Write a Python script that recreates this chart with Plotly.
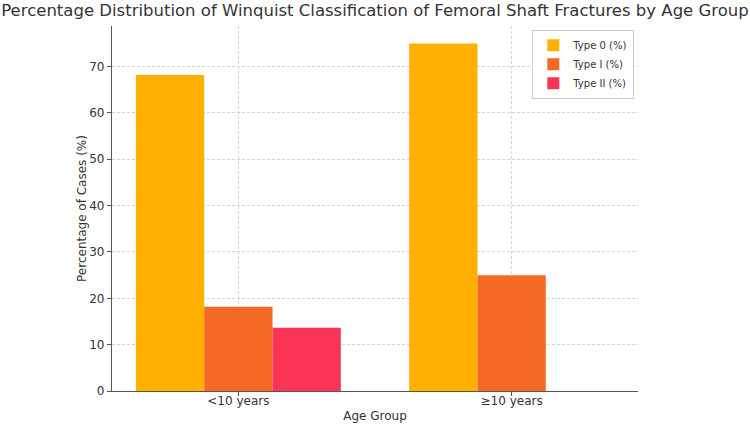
import plotly.graph_objects as go

categories = ["<10 years", "≥10 years"]
type0 = [68.18, 75.0]
type1 = [18.18, 25.0]
type2 = [13.64, 0.0]
series_names = ["Type 0 (%)", "Type I (%)", "Type II (%)"]
colors = ["#FFB000", "#F46A24", "#FA3456"]

fig = go.Figure()
for name, vals, c in zip(series_names, [type0, type1, type2], colors):
    fig.add_trace(go.Bar(x=categories, y=vals, name=name, marker=dict(color=c, line=dict(width=0))))

font = "DejaVu Sans"
fig.update_layout(
    width=750, height=431,
    margin=dict(l=112, r=112, t=26, b=40),
    paper_bgcolor="white", plot_bgcolor="white",
    barmode="group", bargap=0.25, bargroupgap=0,
    font=dict(family=font, size=11, color="#333333"),
    title=dict(text="Percentage Distribution of Winquist Classification of Femoral Shaft Fractures by Age Group",
               x=0.5, xanchor="center", y=0.99, yanchor="top",
               font=dict(family=font, size=16.5, color="#333333")),
    legend=dict(x=0.993, y=0.99, xanchor="right", yanchor="top",
                bgcolor="rgba(255,255,255,0.8)", bordercolor="#CCCCCC", borderwidth=1,
                font=dict(size=10, color="#333333"), tracegroupgap=0, itemwidth=30),
    showlegend=True,
)
fig.update_xaxes(
    range=[-0.4625, 1.4625], automargin=False,
    showline=True, linecolor="#555555", linewidth=1.2,
    ticks="outside", ticklen=4, tickcolor="#555555", ticklabelstandoff=-6,
    showgrid=True, gridcolor="#D5D5D5", griddash="3px,2px", gridwidth=0.8,
    title=dict(text="Age Group", font=dict(size=12, color="#333333"), standoff=5),
    tickfont=dict(size=12, color="#333333"),
)
fig.update_yaxes(
    range=[0, 78.75], tickvals=[0, 10, 20, 30, 40, 50, 60, 70], automargin=False,
    showline=True, linecolor="#555555", linewidth=1.2,
    ticks="outside", ticklen=4, tickcolor="#555555",
    showgrid=True, gridcolor="#D5D5D5", griddash="3px,2px", gridwidth=0.8,
    zeroline=False,
    title=dict(text="Percentage of Cases (%)", font=dict(size=12, color="#333333"), standoff=0),
    tickfont=dict(size=12, color="#333333"),
)
fig.write_html("out.html")
